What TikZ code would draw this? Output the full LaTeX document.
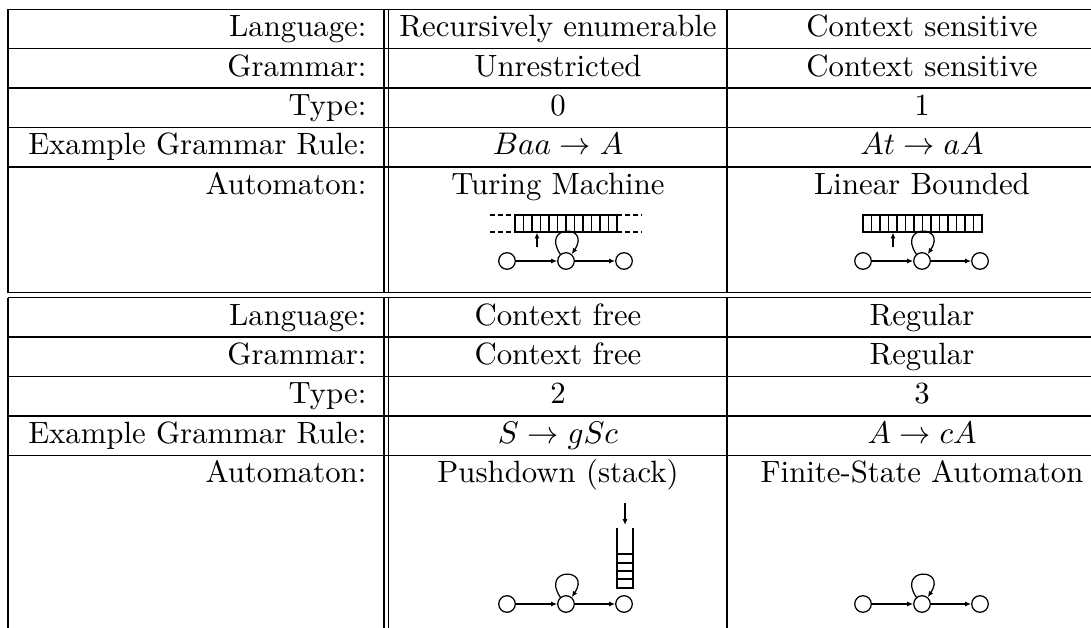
\documentclass[tikz,border=0pt]{standalone}
\usetikzlibrary{arrows.meta}
\begin{document}
\begin{tikzpicture}[x=0.32pt,y=-0.32pt,
  font=\fontsize{9.85}{12}\selectfont,
  rule/.style={line width=0.4pt},
  lab/.style={anchor=base east, inner sep=0pt},
  cell/.style={anchor=base, inner sep=0pt},
  st/.style={circle, draw, line width=0.4pt, minimum size=5.3pt, inner sep=0pt},
  tr/.style={-{Latex[length=1.9pt,width=1.6pt]}, line width=0.4pt},
  tape/.style={line width=0.4pt},
]
\useasboundingbox (0,0) rectangle (1091,628);
\clip (0,0) rectangle (1091,628);

% horizontal rules of both tables
\foreach \y in {9.3,48.7,88.1,127.5,166.9,292.7,297.7,337.1,376.5,415.9,455.3}
  \draw[rule] (8,\y) -- (1100,\y);
% vertical rules
\foreach \x in {8,384,388.7,727} {
  \draw[rule] (\x,9.3) -- (\x,292.7);
  \draw[rule] (\x,297.7) -- (\x,640);
}

% row labels
\node[lab] (l1) at (367,36.7) {Language:};
\node[lab] (g1) at (367,76.1) {Grammar:};
\node[lab] (t1) at (367,115.5) {Type:};
\node[lab] (r1) at (367,154.9) {Example Grammar Rule:};
\node[lab] (a1) at (367,194.3) {Automaton:};
\node[lab] (l2) at (367,325.1) {Language:};
\node[lab] (g2) at (367,364.5) {Grammar:};
\node[lab] (t2) at (367,403.9) {Type:};
\node[lab] (r2) at (367,443.3) {Example Grammar Rule:};
\node[lab] (a2) at (367,482.7) {Automaton:};

% column 2
\node[cell] (l1a) at (558,36.7) {Recursively enumerable};
\node[cell] (g1a) at (558,76.1) {Unrestricted};
\node[cell] (t1a) at (558,115.5) {0};
\node[cell] (r1a) at (558,154.9) {$Baa \to A$};
\node[cell] (a1a) at (558,194.3) {Turing Machine};
\node[cell] (l2a) at (558,325.1) {Context free};
\node[cell] (g2a) at (558,364.5) {Context free};
\node[cell] (t2a) at (558,403.9) {2};
\node[cell] (r2a) at (558,443.3) {$S \to gSc$};
\node[cell] (a2a) at (558,482.7) {Pushdown (stack)};

% column 3
\node[cell] (l1b) at (922,36.7) {Context sensitive};
\node[cell] (g1b) at (922,76.1) {Context sensitive};
\node[cell] (t1b) at (922,115.5) {1};
\node[cell] (r1b) at (922,154.9) {$At \to aA$};
\node[cell] (a1b) at (922,194.3) {Linear Bounded};
\node[cell] (l2b) at (922,325.1) {Regular};
\node[cell] (g2b) at (922,364.5) {Regular};
\node[cell] (t2b) at (922,403.9) {3};
\node[cell] (r2b) at (922,443.3) {$A \to cA$};
\node[cell] (a2b) at (922,482.7) {Finite-State Automaton};

% three-state machine with a self loop on the middle state
\newcommand{\machine}[3]{%
  \node[st] (#1s1) at (#2-59,#3) {};
  \node[st] (#1s2) at (#2,#3) {};
  \node[st] (#1s3) at (#2+58,#3) {};
  \draw[tr] (#1s1) -- (#1s2);
  \draw[tr] (#1s2) -- (#1s3);
  \draw[tr] (#1s2.130) .. controls +(-20,-30) and +(20,-30) .. (#1s2.50);
}

% Turing machine: tape open at both ends
\draw[tape] (515,215) rectangle (617,232);
\foreach \i in {1,...,11} \draw[tape] ({515+\i*8.5},215) -- ++(0,17);
\draw[tape,dash pattern=on 1.6pt off 1pt] (490,215) -- (515,215) (490,232) -- (515,232)
  (617,215) -- (642,215) (617,232) -- (642,232);
\coordinate (tmh0) at (537,247);
\coordinate (tmh1) at (537,232.5);
\draw[tr] (tmh0) -- (tmh1);
\machine{tm}{566}{261}

% linear bounded automaton: closed tape
\draw[tape] (863,215) rectangle (982,232);
\foreach \i in {1,...,13} \draw[tape] ({863+\i*8.5},215) -- ++(0,17);
\coordinate (lbh0) at (893,247);
\coordinate (lbh1) at (893,232.5);
\draw[tr] (lbh0) -- (lbh1);
\machine{lb}{922}{261}

% pushdown automaton: stack with push arrow
\draw[tape] (617,528) -- (617,588) -- (633,588) -- (633,528);
\foreach \y in {554,563,571,579} \draw[tape] (617,\y) -- (633,\y);
\coordinate (pdp0) at (625,503);
\coordinate (pdp1) at (625,525);
\draw[tr] (pdp0) -- (pdp1);
\machine{pd}{566}{604}

% finite-state automaton
\machine{fs}{922}{604}
\end{tikzpicture}
\end{document}
